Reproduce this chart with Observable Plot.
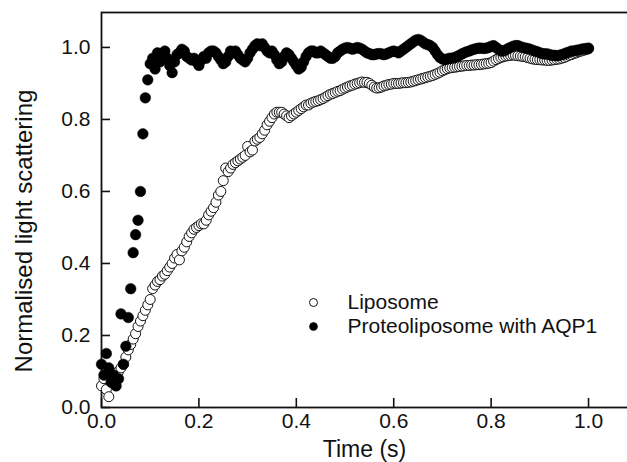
<!DOCTYPE html>
<html>
<head>
<meta charset="utf-8">
<script src="https://cdn.jsdelivr.net/npm/d3@7"></script>
<script src="https://cdn.jsdelivr.net/npm/@observablehq/plot@0.6"></script>
<style>
  html, body { margin: 0; padding: 0; background: #fff; }
  #chart { width: 627px; height: 462px; }
</style>
</head>
<body>
<div id="chart"></div>
<script>
const time = [
  0,0.005,0.01,0.015,0.02,0.025,0.03,0.035,0.04,0.045,0.05,0.055,0.06,0.065,0.07,0.075,0.08,0.085,0.09,0.095,
  0.1,0.105,0.11,0.115,0.12,0.125,0.13,0.135,0.14,0.145,0.15,0.155,0.16,0.165,0.17,0.175,0.18,0.185,0.19,0.195,
  0.2,0.205,0.21,0.215,0.22,0.225,0.23,0.235,0.24,0.245,0.25,0.255,0.26,0.265,0.27,0.275,0.28,0.285,0.29,0.295,
  0.3,0.305,0.31,0.315,0.32,0.325,0.33,0.335,0.34,0.345,0.35,0.355,0.36,0.365,0.37,0.375,0.38,0.385,0.39,0.395,
  0.4,0.405,0.41,0.415,0.42,0.425,0.43,0.435,0.44,0.445,0.45,0.455,0.46,0.465,0.47,0.475,0.48,0.485,0.49,0.495,
  0.5,0.505,0.51,0.515,0.52,0.525,0.53,0.535,0.54,0.545,0.55,0.555,0.56,0.565,0.57,0.575,0.58,0.585,0.59,0.595,
  0.6,0.605,0.61,0.615,0.62,0.625,0.63,0.635,0.64,0.645,0.65,0.655,0.66,0.665,0.67,0.675,0.68,0.685,0.69,0.695,
  0.7,0.705,0.71,0.715,0.72,0.725,0.73,0.735,0.74,0.745,0.75,0.755,0.76,0.765,0.77,0.775,0.78,0.785,0.79,0.795,
  0.8,0.805,0.81,0.815,0.82,0.825,0.83,0.835,0.84,0.845,0.85,0.855,0.86,0.865,0.87,0.875,0.88,0.885,0.89,0.895,
  0.9,0.905,0.91,0.915,0.92,0.925,0.93,0.935,0.94,0.945,0.95,0.955,0.96,0.965,0.97,0.975,0.98,0.985,0.99,0.995,
  1.0
];

const liposome = [
  0.06,0.08,0.05,0.03,0.07,0.09,0.08,0.10,0.11,0.12,0.14,0.16,0.175,0.19,0.205,0.225,0.24,0.255,0.27,0.285,
  0.30,0.33,0.34,0.35,0.355,0.365,0.37,0.38,0.39,0.40,0.415,0.425,0.41,0.435,0.445,0.46,0.475,0.485,0.495,0.50,
  0.505,0.51,0.51,0.52,0.535,0.545,0.555,0.57,0.59,0.60,0.63,0.665,0.655,0.665,0.675,0.68,0.685,0.69,0.695,0.70,
  0.725,0.71,0.715,0.74,0.745,0.75,0.76,0.77,0.785,0.795,0.805,0.815,0.82,0.82,0.82,0.815,0.81,0.805,0.81,0.815,
  0.82,0.825,0.83,0.835,0.84,0.84,0.845,0.848,0.85,0.852,0.855,0.858,0.862,0.866,0.87,0.872,0.875,0.878,0.88,0.884,
  0.887,0.89,0.893,0.895,0.898,0.90,0.902,0.904,0.903,0.903,0.90,0.895,0.89,0.887,0.888,0.89,0.893,0.895,0.897,0.898,
  0.90,0.90,0.90,0.901,0.902,0.902,0.903,0.904,0.906,0.908,0.91,0.912,0.914,0.916,0.918,0.92,0.922,0.925,0.928,0.931,
  0.935,0.938,0.941,0.943,0.944,0.945,0.946,0.947,0.948,0.949,0.95,0.95,0.951,0.951,0.952,0.952,0.953,0.954,0.955,0.956,
  0.958,0.962,0.966,0.969,0.972,0.974,0.976,0.977,0.978,0.979,0.978,0.977,0.976,0.975,0.974,0.972,0.97,0.968,0.967,0.966,
  0.966,0.965,0.965,0.964,0.964,0.965,0.966,0.967,0.968,0.97,0.972,0.975,0.978,0.98,0.983,0.985,0.988,0.99,0.992,0.994,
  0.996
];

const proteoliposome = [
  0.12,0.09,0.15,0.11,0.07,0.09,0.06,0.08,0.26,0.12,0.17,0.25,0.33,0.43,0.48,0.52,0.60,0.76,0.86,0.91,
  0.955,0.97,0.94,0.985,0.96,0.975,0.99,0.97,0.95,0.93,0.96,0.98,0.985,0.995,0.99,0.975,0.97,0.965,0.97,0.96,
  0.95,0.965,0.975,0.97,0.985,0.99,0.99,0.985,0.975,0.965,0.955,0.96,0.975,0.99,0.985,0.99,0.98,0.97,0.965,0.96,
  0.97,0.985,0.995,1.005,1.01,1.005,1.01,1.0,0.99,0.985,0.99,0.98,0.965,0.955,0.96,0.975,0.985,0.98,0.97,0.96,
  0.95,0.94,0.945,0.96,0.975,0.985,0.99,0.99,0.985,0.985,0.99,0.985,0.98,0.975,0.97,0.97,0.975,0.985,0.99,0.995,
  0.998,1.0,0.998,0.995,0.997,1.0,0.998,0.995,0.99,0.985,0.983,0.98,0.98,0.982,0.983,0.982,0.98,0.982,0.985,0.988,
  0.99,0.988,0.985,0.99,0.995,1.0,1.005,1.01,1.015,1.02,1.022,1.02,1.015,1.01,1.008,1.005,1.0,0.99,0.98,0.972,
  0.968,0.966,0.968,0.97,0.97,0.972,0.975,0.978,0.982,0.985,0.988,0.99,0.993,0.995,0.997,0.998,0.998,0.997,0.998,1.0,
  1.003,1.005,1.0,0.995,0.99,0.99,0.993,0.997,1.0,1.003,1.005,1.005,1.002,1.0,0.998,0.997,0.995,0.992,0.99,0.988,
  0.985,0.983,0.982,0.982,0.98,0.978,0.978,0.977,0.978,0.98,0.982,0.985,0.987,0.99,0.99,0.992,0.993,0.995,0.996,0.997,
  0.998
];

const xTicks = [0, 0.2, 0.4, 0.6, 0.8, 1.0];
const yTicks = [0, 0.2, 0.4, 0.6, 0.8, 1.0];
const xDomain = [0, 1.08];
const yDomain = [0, 1.097];
const xTitle = "Time (s)";
const yTitle = "Normalised light scattering";
const legendLabels = ["Liposome", "Proteoliposome with AQP1"];

const lipoData = time.map((t, i) => ({t, v: liposome[i]}));
const proteoData = time.map((t, i) => ({t, v: proteoliposome[i]}));

const FONT = "'Liberation Sans', Arial, Helvetica, sans-serif";
const fmt = d3.format(".1f");

const W = 627, H = 462, ML = 101, MR = 0, MT = 12, MB = 55;
const TICK = 9; // inward tick length, px
const frameW = W - ML - MR, frameH = H - MT - MB;
// tick length converted to data units of each axis
const xTickLen = TICK * (xDomain[1] - xDomain[0]) / frameW;
const yTickLen = TICK * (yDomain[1] - yDomain[0]) / frameH;

const chart = Plot.plot({
  width: W,
  height: H,
  marginLeft: ML,
  marginRight: MR,
  marginTop: MT,
  marginBottom: MB,
  style: {fontFamily: FONT, background: "#fff", color: "#111"},
  x: {domain: xDomain},
  y: {domain: yDomain},
  marks: [
    Plot.frame({stroke: "#111", strokeWidth: 1.8, insetRight: -3}),
    // inward ticks
    Plot.ruleX(xTicks, {x: d => d, y1: () => yDomain[0], y2: () => yDomain[0] + yTickLen, stroke: "#111", strokeWidth: 1.6}),
    Plot.ruleY(yTicks, {y: d => d, x1: () => xDomain[0], x2: () => xDomain[0] + xTickLen, stroke: "#111", strokeWidth: 1.6}),
    // tick labels
    Plot.axisX({ticks: xTicks, tickSize: 0, tickPadding: 6, tickFormat: fmt, fontSize: 21, label: null}),
    Plot.axisY({ticks: yTicks, tickSize: 0, tickPadding: 11, tickFormat: fmt, fontSize: 21, label: null}),
    // axis titles
    Plot.text([xTitle], {text: d => d, frameAnchor: "bottom", lineAnchor: "top", dy: 33, fontSize: 23}),
    Plot.text([yTitle], {text: d => d, frameAnchor: "left", textAnchor: "middle", lineAnchor: "middle", rotate: -90, dx: -77, dy: 21, fontSize: 24}),
    // data
    Plot.dot(lipoData, {x: "t", y: "v", r: 5, fill: "#fff", stroke: "#111", strokeWidth: 1}),
    Plot.dot(proteoData, {x: "t", y: "v", r: 5.3, fill: "#000", stroke: "#000", strokeWidth: 0.5}),
    // legend
    Plot.dot([legendLabels[0]], {frameAnchor: "top-left", dx: 212, dy: 290, r: 4, fill: "#fff", stroke: "#111", strokeWidth: 1}),
    Plot.dot([legendLabels[1]], {frameAnchor: "top-left", dx: 212, dy: 314, r: 4.3, fill: "#000"}),
    Plot.text([legendLabels[0]], {text: d => d, frameAnchor: "top-left", dx: 246, dy: 290, textAnchor: "start", lineAnchor: "middle", fontSize: 21}),
    Plot.text([legendLabels[1]], {text: d => d, frameAnchor: "top-left", dx: 246, dy: 314, textAnchor: "start", lineAnchor: "middle", fontSize: 21})
  ]
});
document.getElementById("chart").append(chart);
</script>
</body>
</html>
